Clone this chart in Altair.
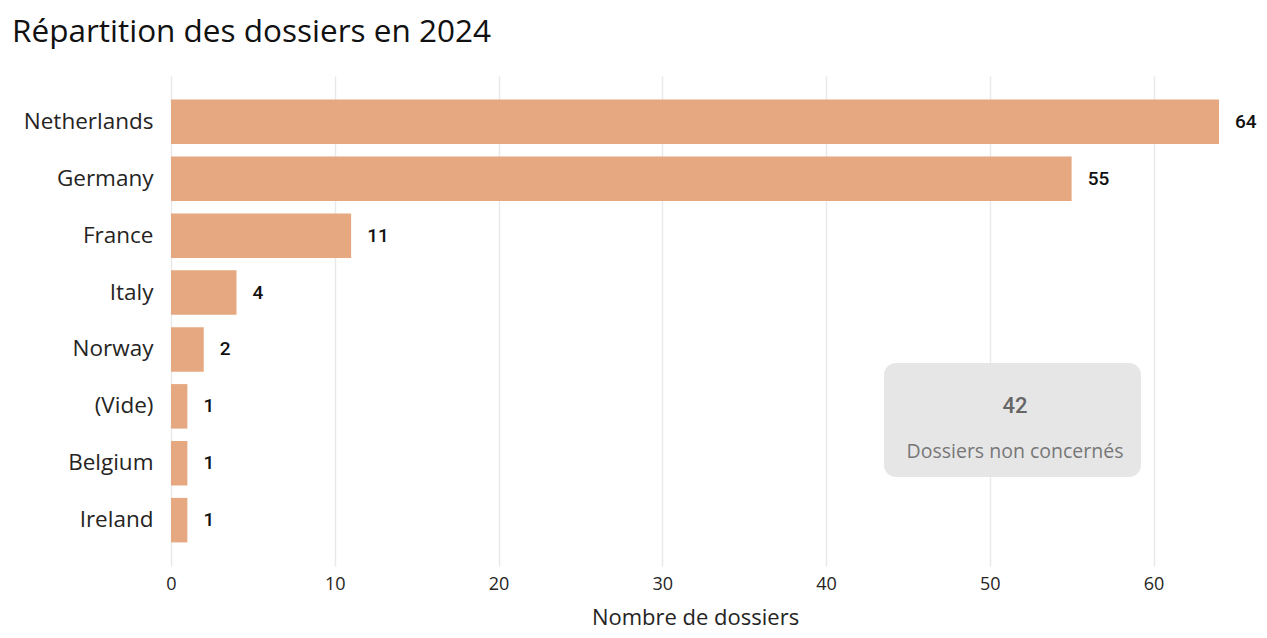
import altair as alt
import pandas as pd

countries = ["Netherlands", "Germany", "France", "Italy", "Norway", "(Vide)", "Belgium", "Ireland"]
counts = [64, 55, 11, 4, 2, 1, 1, 1]
x_ticks = [0, 10, 20, 30, 40, 50, 60]
card_value = ["42"]
card_label = ["Dossiers non concernés"]
chart_title = "Répartition des dossiers en 2024"
x_title = "Nombre de dossiers"

df = pd.DataFrame({"country": countries, "count": counts})
df_card = pd.DataFrame({"v": card_value, "l": card_label})

W, H = 1048, 490
TXT = "#252423"

x = alt.X(
    "count:Q",
    scale=alt.Scale(domain=[0, 64], nice=False, zero=True),
    axis=alt.Axis(
        values=x_ticks, title=x_title, grid=True, gridColor="#e9e9e9", gridWidth=1.5,
        domain=False, ticks=False, labelFlush=False, labelFont="Open Sans", labelFontSize=18,
        labelColor=TXT, labelPadding=9, titleFont="Open Sans", titleFontSize=22,
        titleFontWeight="normal", titleColor=TXT, titlePadding=14,
    ),
)
y = alt.Y(
    "country:N", sort=countries,
    scale=alt.Scale(paddingInner=0.218, paddingOuter=0.415),
    axis=alt.Axis(title=None, domain=False, ticks=False, labelFont="Open Sans",
                  labelFontSize=22.5, labelPadding=18, labelColor=TXT),
)

bars = alt.Chart(df).mark_bar(color="#E5A880").encode(x=x, y=y)
values = alt.Chart(df).mark_text(
    align="left", baseline="middle", dx=16, font="Roboto", fontWeight=500,
    fontSize=19, color="#111111"
).encode(x="count:Q", y=alt.Y("country:N", sort=countries), text="count:Q")

card = alt.Chart(df_card).mark_rect(color="#e6e6e6", cornerRadius=12).encode(
    x=alt.value(713), x2=alt.value(970), y=alt.value(287), y2=alt.value(401)
)
card_num = alt.Chart(df_card).mark_text(
    font="Roboto", fontSize=22, fontWeight=500, color="#666666", baseline="middle"
).encode(x=alt.value(844), y=alt.value(330), text="v:N")
card_txt = alt.Chart(df_card).mark_text(
    font="Open Sans", fontSize=19.5, color="#777777", baseline="middle"
).encode(x=alt.value(844), y=alt.value(376), text="l:N")

chart = alt.layer(bars, values, card, card_num, card_txt).properties(
    width=W, height=H,
    padding={"left": 163, "top": 68, "right": 39, "bottom": 63},
    autosize=alt.AutoSizeParams(type="none"),
    title=alt.TitleParams(
        chart_title, anchor="start", frame="group", font="Open Sans", fontSize=31.5,
        fontWeight="normal", color="#111111", dx=-159, offset=3,
        baseline="alphabetic",
    ),
).configure(background="white").configure_view(stroke=None)

chart.save("out.html", embed_options={"renderer": "svg", "actions": False})
